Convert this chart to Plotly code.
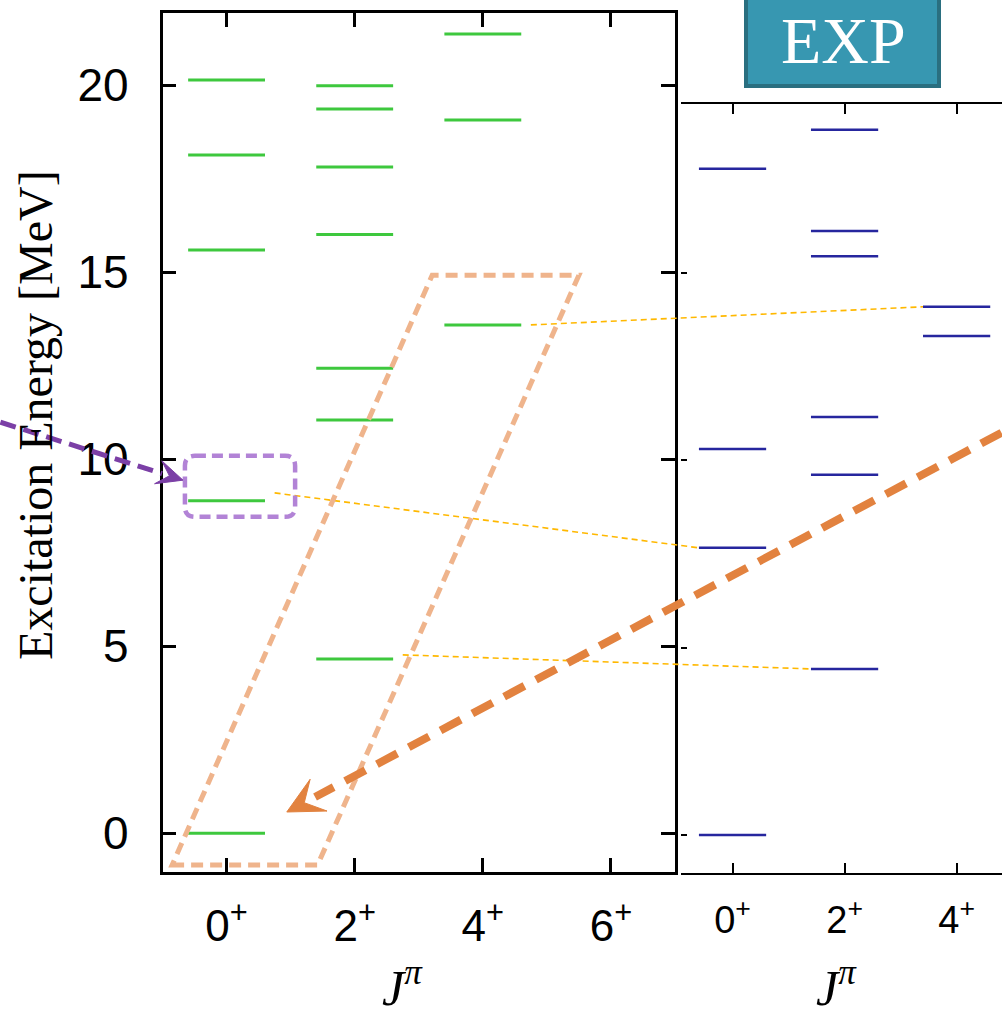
import plotly.graph_objects as go

# ---------------- data ----------------
th_J = [0, 0, 0, 0, 0,
        2, 2, 2, 2, 2, 2, 2,
        4, 4, 4]
th_E = [20.14, 18.13, 15.59, 8.89, 0.0,
        19.98, 19.36, 17.81, 16.01, 12.43, 11.05, 4.66,
        21.37, 19.07, 13.59]

exp_J = [0, 0, 0, 0,
         2, 2, 2, 2, 2, 2,
         4, 4]
exp_E = [17.77, 10.30, 7.66, 0.0,
         18.81, 16.11, 15.44, 11.15, 9.61, 4.43,
         14.09, 13.31]

th_ticks = [0, 2, 4, 6]
th_ticklabels = ["0<sup>+</sup>", "2<sup>+</sup>", "4<sup>+</sup>", "6<sup>+</sup>"]
exp_ticks = [0, 2, 4]
exp_ticklabels = ["0<sup>+</sup>", "2<sup>+</sup>", "4<sup>+</sup>"]
e_ticks = [0, 5, 10, 15, 20]

# correspondences (theory J, theory E) -> (exp J, exp E)
link_from = [(4, 13.59), (0, 9.10), (2, 4.77)]
link_to = [(4, 14.09), (0, 7.66), (2, 4.43)]

HALF = 0.6  # half width of a level bar in J units

# ---------------- layout geometry ----------------
W, H = 1002, 1016
XL_DOM = [162.5 / W, 675 / W]
YL_DOM = [1 - 871.7 / H, 1 - 13.3 / H]
XL_RNG = [-1.0, 7.0]
YL_RNG = [-1.026, 21.92]
XR_DOM = [681 / W, 1.0]
YR_DOM = [1 - 873.3 / H, 1 - 104 / H]
XR_RNG = [-0.92, 4.81]
YR_RNG = [-1.022, 19.50]


def to_paper(J, E, xd, yd, xr, yr):
    px = xd[0] + (J - xr[0]) / (xr[1] - xr[0]) * (xd[1] - xd[0])
    py = yd[0] + (E - yr[0]) / (yr[1] - yr[0]) * (yd[1] - yd[0])
    return px, py


def lp(J, E):
    return to_paper(J, E, XL_DOM, YL_DOM, XL_RNG, YL_RNG)


def rp(J, E):
    return to_paper(J, E, XR_DOM, YR_DOM, XR_RNG, YR_RNG)


def bars(Js, Es):
    xs, ys = [], []
    for j, e in zip(Js, Es):
        xs += [j - HALF, j + HALF, None]
        ys += [e, e, None]
    return xs, ys


fig = go.Figure()
gx, gy = bars(th_J, th_E)
fig.add_trace(go.Scatter(x=gx, y=gy, mode="lines", line=dict(color="#3ec83e", width=3),
                         xaxis="x", yaxis="y", showlegend=False, hoverinfo="skip"))
bx, by = bars(exp_J, exp_E)
fig.add_trace(go.Scatter(x=bx, y=by, mode="lines", line=dict(color="#26269e", width=2.5),
                         xaxis="x2", yaxis="y2", showlegend=False, hoverinfo="skip"))

shapes = []
# yellow connecting lines
for (j0, e0), (j1, e1) in zip(link_from, link_to):
    x0, y0 = lp(j0 + 0.75, e0)
    x1, y1 = rp(j1 - HALF, e1)
    shapes.append(dict(type="line", xref="paper", yref="paper", x0=x0, y0=y0, x1=x1, y1=y1,
                       line=dict(color="#ffb800", width=1.6, dash="6px,4px")))

# orange parallelogram (data coordinates of the left panel)
para = [(-0.85, -0.85), (1.42, -0.85), (5.5, 14.92), (3.21, 14.92)]
path = "M " + " L ".join(f"{a},{b}" for a, b in para) + " Z"
shapes.append(dict(type="path", xref="x", yref="y", path=path,
                   line=dict(color="#efb48c", width=5, dash="12px,7px")))

# purple rounded dashed box around the 0+ state
px0, py0 = lp(-0.65, 10.09)
px1, py1 = lp(1.07, 8.46)
rx, ry = 10 / W, 10 / H
pp = (f"M {px0+rx},{py0} L {px1-rx},{py0} Q {px1},{py0} {px1},{py0-ry} "
      f"L {px1},{py1+ry} Q {px1},{py1} {px1-rx},{py1} L {px0+rx},{py1} "
      f"Q {px0},{py1} {px0},{py1+ry} L {px0},{py0-ry} Q {px0},{py0} {px0+rx},{py0} Z")
shapes.append(dict(type="path", xref="paper", yref="paper", path=pp,
                   line=dict(color="#b283d6", width=4.5, dash="11px,6px")))


def arrow(start, tip, color, width, dash, head_len, head_w):
    sx, sy = start
    tx, ty = tip
    dxp, dyp = (tx - sx) * W, (ty - sy) * H
    L = (dxp ** 2 + dyp ** 2) ** 0.5
    ux, uy = dxp / L, dyp / L
    bxp, byp = tx * W - ux * head_len, ty * H - uy * head_len
    out = [dict(type="line", xref="paper", yref="paper", x0=sx, y0=sy,
                x1=bxp / W + ux * 4 / W, y1=byp / H + uy * 4 / H,
                line=dict(color=color, width=width, dash=dash))]
    lx, ly = bxp - uy * head_w, byp + ux * head_w
    rx_, ry_ = bxp + uy * head_w, byp - ux * head_w
    nx, ny = tx * W - ux * head_len * 0.55, ty * H - uy * head_len * 0.55
    p = (f"M {tx},{ty} L {lx / W},{ly / H} L {nx / W},{ny / H} L {rx_ / W},{ry_ / H} Z")
    out.append(dict(type="path", xref="paper", yref="paper", path=p,
                    fillcolor=color, line=dict(color=color, width=1)))
    return out


# purple arrow pointing to the box
shapes += arrow(lp(-3.53, 10.99), lp(-0.68, 9.44), "#7b3fa6", 5, "16px,8px", 26, 12)
# orange arrow from the right to the ground state region
shapes += arrow(rp(4.8, 10.73), lp(0.94, 0.57), "#e2823f", 8, "23px,13px", 36, 18)

# EXP box
shapes.append(dict(type="rect", xref="paper", yref="paper",
                   x0=746 / W, x1=939 / W, y0=1 - 86 / H, y1=1 + 0.01,
                   fillcolor="#3797b1", line=dict(color="#2a6f80", width=4)))

annotations = [
    dict(text="EXP", x=843 / W, y=1 - 40 / H, xref="paper", yref="paper", showarrow=False,
         font=dict(family="Liberation Serif", size=66, color="white"), xanchor="center", yanchor="middle"),
    dict(text="Excitation Energy [MeV]", x=36 / W, y=1 - 415 / H, xref="paper", yref="paper",
         showarrow=False, textangle=-90, xanchor="center", yanchor="middle",
         font=dict(family="Liberation Serif", size=48, color="black")),
    dict(text="<i>J</i><sup><i>π</i></sup>", x=402 / W, y=1 - 984 / H, xref="paper", yref="paper",
         showarrow=False, xanchor="center", yanchor="middle",
         font=dict(family="Liberation Serif", size=50, color="black")),
    dict(text="<i>J</i><sup><i>π</i></sup>", x=836 / W, y=1 - 984 / H, xref="paper", yref="paper",
         showarrow=False, xanchor="center", yanchor="middle",
         font=dict(family="Liberation Serif", size=50, color="black")),
]

axis_common = dict(showgrid=False, zeroline=False, ticks="inside", linecolor="black",
                   tickcolor="black", fixedrange=True)

fig.update_layout(
    width=W, height=H, margin=dict(l=0, r=0, t=0, b=0),
    paper_bgcolor="white", plot_bgcolor="rgba(0,0,0,0)",
    xaxis=dict(domain=XL_DOM, range=XL_RNG, anchor="y", tickvals=th_ticks, ticktext=th_ticklabels,
               showline=True, mirror="allticks", linewidth=2.5, tickwidth=2.5, ticklen=14,
               ticklabelstandoff=14,
               tickfont=dict(family="Liberation Sans", size=44, color="black"), **axis_common),
    yaxis=dict(domain=YL_DOM, range=YL_RNG, anchor="x", tickvals=e_ticks,
               showline=True, mirror="allticks", linewidth=2.5, tickwidth=2.5, ticklen=14,
               ticklabelstandoff=22,
               tickfont=dict(family="Liberation Sans", size=46, color="black"), **axis_common),
    xaxis2=dict(domain=XR_DOM, range=XR_RNG, anchor="y2", tickvals=exp_ticks, ticktext=exp_ticklabels,
                showline=True, mirror="allticks", linewidth=2, tickwidth=2, ticklen=10,
                ticklabelstandoff=12,
                tickfont=dict(family="Liberation Sans", size=38, color="black"), **axis_common),
    yaxis2=dict(domain=YR_DOM, range=YR_RNG, anchor="x2", tickvals=e_ticks, showticklabels=False,
                showline=False, tickwidth=2, ticklen=6, **axis_common),
    shapes=shapes, annotations=annotations,
)

fig.write_html("out.html", config={"displayModeBar": False},
               post_script="document.body.style.margin='0px';document.body.style.padding='0px';")
